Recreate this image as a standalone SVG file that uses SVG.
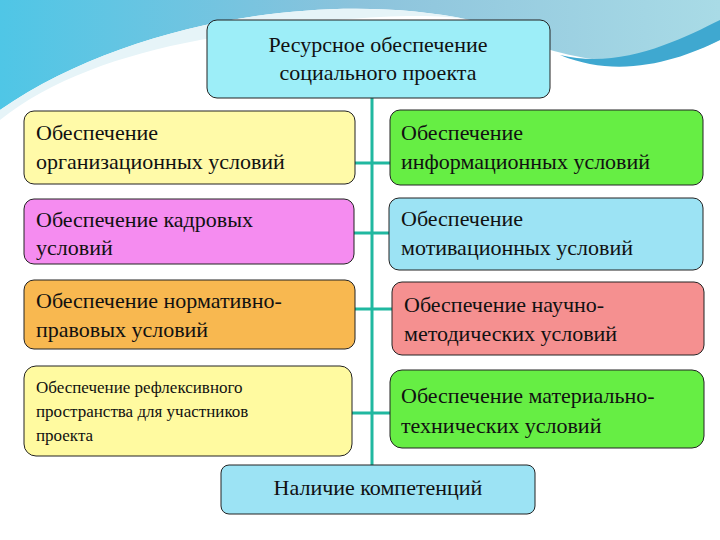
<svg xmlns="http://www.w3.org/2000/svg" width="720" height="540" viewBox="0 0 720 540">
<defs>
<linearGradient id="sw" x1="0" y1="0" x2="1" y2="0"><stop offset="0" stop-color="#4fc6e6"/><stop offset="0.5" stop-color="#8cc3dc"/><stop offset="1" stop-color="#a9dbe6"/></linearGradient>
</defs>
<style>
.b{stroke:#222;stroke-width:1}
text{font-family:'Liberation Serif','DejaVu Serif',serif;fill:#111}
.t{font-size:22px}
.s{font-size:17px}
.c{stroke:#20b8a0;stroke-width:3;fill:none}
</style>
<rect width="720" height="540" fill="#fff"/>
<path d="M0 0 H720 V40 C640 80 560 60 470 20 C330 -10 130 20 0 110 Z" fill="url(#sw)"/>
<path d="M0 110 C130 20 330 -10 470 20 C420 10 300 20 200 40 C120 55 50 80 0 120 Z" fill="#e6f4f8"/>
<path d="M560 55 C620 70 680 40 720 20 V40 C680 60 620 80 560 55 Z" fill="#3fa8d0"/>
<g id="connectors">
<path class="c" d="M372 98 V465"/>
<path class="c" d="M355 163 H390 M354 233 H389 M355 309 H392 M352 413 H390"/>
</g>
<g id="top"><rect class="b" x="207" y="20" width="343" height="78" rx="10" fill="#9deef8"/>
<text class="t" x="378" y="52" text-anchor="middle" font-family="Liberation Serif, serif">Ресурсное обеспечение</text>
<text class="t" x="378" y="80" text-anchor="middle" font-family="Liberation Serif, serif">социального проекта</text></g>
<g id="n1" font-family="Liberation Serif, serif"><rect class="b" x="24" y="111" width="331" height="73" rx="10" fill="#fffaa8"/>
<text class="t" x="36" y="140">Обеспечение</text><text class="t" x="36" y="169">организационных условий</text></g>
<g id="n2"><rect class="b" x="390" y="110" width="313" height="75" rx="10" fill="#66ee44"/>
<text class="t" x="401" y="140">Обеспечение</text><text class="t" x="401" y="169">информационных условий</text></g>
<g id="n3"><rect class="b" x="24" y="199" width="330" height="65" rx="10" fill="#f58cf0"/>
<text class="t" x="36" y="227">Обеспечение кадровых</text><text class="t" x="36" y="255">условий</text></g>
<g id="n4"><rect class="b" x="389" y="198" width="314" height="72" rx="10" fill="#9ce3f4"/>
<text class="t" x="401" y="226">Обеспечение</text><text class="t" x="401" y="255">мотивационных условий</text></g>
<g id="n5"><rect class="b" x="24" y="280" width="331" height="69" rx="10" fill="#f8b850"/>
<text class="t" x="36" y="308">Обеспечение нормативно-</text><text class="t" x="36" y="337">правовых условий</text></g>
<g id="n6"><rect class="b" x="392" y="282" width="312" height="73" rx="10" fill="#f59090"/>
<text class="t" x="404" y="312">Обеспечение научно-</text><text class="t" x="404" y="341">методических условий</text></g>
<g id="n7"><rect class="b" x="24" y="366" width="328" height="90" rx="12" fill="#fffaa0"/>
<text class="s" x="36" y="393">Обеспечение рефлексивного</text><text class="s" x="36" y="417">пространства для участников</text><text class="s" x="36" y="441">проекта</text></g>
<g id="n8"><rect class="b" x="390" y="370" width="314" height="78" rx="12" fill="#66ee44"/>
<text class="t" x="401" y="403">Обеспечение материально-</text><text class="t" x="401" y="433">технических условий</text></g>
<g id="n9"><rect class="b" x="221" y="465" width="314" height="49" rx="8" fill="#9ce3f4"/>
<text class="t" x="378" y="495" text-anchor="middle">Наличие компетенций</text></g>
</svg>
